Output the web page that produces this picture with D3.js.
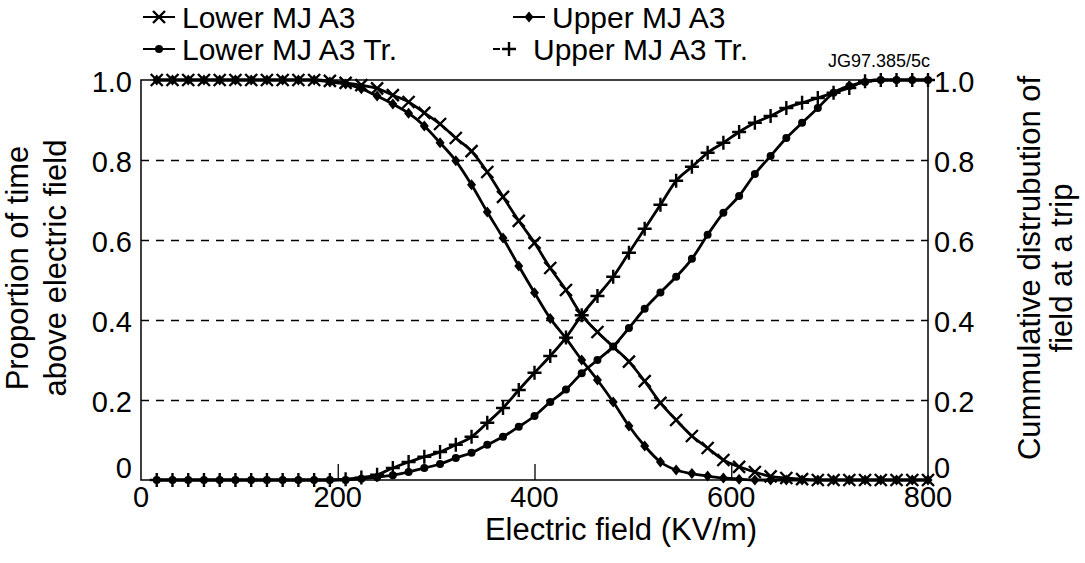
<!DOCTYPE html>
<html>
<head>
<meta charset="utf-8">
<script src="https://cdn.jsdelivr.net/npm/d3@7"></script>
<style>
  body { margin: 0; background: #fff; }
  text { font-family: "Liberation Sans", Arial, Helvetica, sans-serif; fill: #000; }
</style>
</head>
<body>
<div id="chart"></div>
<script>
// field values (KV/m) where each point was read
var field = d3.range(16, 801, 16);

// proportion of time above field (decreasing)
var lowerA3 = [1,1,1,1,1,1,1,1,1,1,1, 0.998,0.993,0.987,0.979,0.962,0.945,0.918,0.89,0.855,
  0.822,0.77,0.708,0.648,0.593,0.53,0.475,0.412,0.37,0.333,0.296,0.247,0.193,0.15,0.11,
  0.08,0.05,0.033,0.02,0.009,0.005,0.002,0,0,0,0,0,0,0,0];
var upperA3 = [1,1,1,1,1,1,1,1,1,1,1, 0.995,0.99,0.978,0.96,0.94,0.917,0.885,0.843,0.798,
  0.738,0.67,0.605,0.535,0.468,0.404,0.354,0.3,0.25,0.195,0.135,0.085,0.045,0.025,0.016,
  0.01,0.005,0.002,0,0,0,0,0,0,0,0,0,0,0,0];

// cumulative distribution of field at a trip (increasing)
var lowerA3Tr = [0,0,0,0,0,0,0,0,0,0,0,0,0, 0.003,0.007,0.012,0.02,0.03,0.04,0.055,
  0.068,0.088,0.108,0.133,0.16,0.195,0.226,0.267,0.3,0.334,0.38,0.428,0.469,0.508,0.553,
  0.613,0.668,0.71,0.765,0.81,0.855,0.893,0.93,0.968,0.985,0.995,1,1,1,1];
var upperA3Tr = [0,0,0,0,0,0,0,0,0,0,0,0, 0.002,0.006,0.013,0.03,0.045,0.058,0.07,0.088,
  0.108,0.143,0.18,0.225,0.268,0.31,0.356,0.412,0.46,0.508,0.568,0.628,0.688,0.748,0.783,
  0.818,0.843,0.87,0.893,0.91,0.93,0.943,0.955,0.968,0.98,0.997,1,1,1,1];

var seriesNames = ["Lower MJ A3", "Upper MJ A3", "Lower MJ A3 Tr.", "Upper MJ A3 Tr."];
var xTicks = [0, 200, 400, 600, 800];
var yTicks = [0, 0.2, 0.4, 0.6, 0.8, 1.0];

var width = 1085,
    height = 563;

var svg = d3.select("#chart")
    .append("svg")
    .attr("width", width)
    .attr("height", height);

var x = d3.scaleLinear().domain([0, 800]).range([141, 928]);
var y = d3.scaleLinear().domain([0, 1]).range([480, 80]);

var series = [
    { name: seriesNames[0], values: lowerA3, marker: "cross" },
    { name: seriesNames[1], values: upperA3, marker: "diamond" },
    { name: seriesNames[2], values: lowerA3Tr, marker: "dot" },
    { name: seriesNames[3], values: upperA3Tr, marker: "plus" }
];

// dashed grid lines
svg.selectAll(".grid")
    .data(yTicks.filter(function(d) { return d > 0 && d < 1; }))
    .enter().append("line")
    .attr("class", "grid")
    .attr("x1", x(0)).attr("x2", x(800))
    .attr("y1", function(d) { return Math.round(y(d)) + 0.5; })
    .attr("y2", function(d) { return Math.round(y(d)) + 0.5; })
    .attr("stroke", "#000")
    .attr("stroke-width", 1.5)
    .attr("stroke-dasharray", "8,7");

// frame
svg.append("rect")
    .attr("x", x(0)).attr("y", y(1))
    .attr("width", x(800) - x(0)).attr("height", y(0) - y(1))
    .attr("fill", "none")
    .attr("stroke", "#000")
    .attr("stroke-width", 1.5);

// x axis with small inner ticks
var xAxis = svg.append("g")
    .attr("transform", "translate(0," + y(0) + ")")
    .call(d3.axisTop(x).tickValues([200, 400, 600]).tickSize(16).tickFormat(""));
xAxis.select(".domain").remove();
xAxis.selectAll("line").attr("stroke-width", 1.3);

svg.selectAll(".xlab")
    .data(xTicks)
    .enter().append("text")
    .attr("class", "xlab")
    .attr("x", function(d) { return x(d); })
    .attr("y", 507)
    .attr("text-anchor", "middle")
    .style("font-size", "29px")
    .text(function(d) { return d; });

function yLabel(d) { return d === 0 ? "0" : d3.format(".1f")(d); }
function yPos(d) { return d === 0 ? y(d) - 12 : y(d) + 2; }

svg.selectAll(".ylabL")
    .data(yTicks)
    .enter().append("text")
    .attr("class", "ylabL")
    .attr("x", 132)
    .attr("y", yPos)
    .attr("dy", "0.35em")
    .attr("text-anchor", "end")
    .style("font-size", "29px")
    .text(yLabel);

svg.selectAll(".ylabR")
    .data(yTicks)
    .enter().append("text")
    .attr("class", "ylabR")
    .attr("x", 934)
    .attr("y", yPos)
    .attr("dy", "0.35em")
    .attr("text-anchor", "start")
    .style("font-size", "29px")
    .text(yLabel);

// curves
var line = d3.line()
    .x(function(d, i) { return x(field[i]); })
    .y(function(d) { return y(d); })
    .curve(d3.curveMonotoneX);

svg.selectAll(".curve")
    .data(series)
    .enter().append("path")
    .attr("class", "curve")
    .attr("d", function(s) { return line(s.values); })
    .attr("fill", "none")
    .attr("stroke", "#000")
    .attr("stroke-width", 2.8);

// marker drawing
function drawMarker(g, type) {
    if (type == "cross") {
        g.append("path").attr("d", "M-6,-6L6,6M-6,6L6,-6")
            .attr("stroke", "#000").attr("stroke-width", 2.4);
    } else if (type == "plus") {
        g.append("path").attr("d", "M-7,0L7,0M0,-7L0,7")
            .attr("stroke", "#000").attr("stroke-width", 2.4);
    } else if (type == "diamond") {
        g.append("path").attr("d", "M0,-5.5L4.5,0L0,5.5L-4.5,0Z").attr("fill", "#000");
    } else {
        g.append("circle").attr("r", 4).attr("fill", "#000");
    }
}

series.forEach(function(s) {
    svg.append("g").selectAll("g")
        .data(s.values)
        .enter().append("g")
        .attr("transform", function(d, i) { return "translate(" + x(field[i]) + "," + y(d) + ")"; })
        .each(function() { drawMarker(d3.select(this), s.marker); });
});

// legend
var legendPos = [
    { x: 143, y: 17, textX: 182, dash: null },
    { x: 513, y: 17, textX: 552, dash: null },
    { x: 143, y: 49, textX: 182, dash: null },
    { x: 493, y: 49, textX: 533, dash: "7,9" }
];
series.forEach(function(s, i) {
    var p = legendPos[i];
    var g = svg.append("g");
    g.append("line")
        .attr("x1", p.x).attr("x2", p.x + 32)
        .attr("y1", p.y).attr("y2", p.y)
        .attr("stroke", "#000").attr("stroke-width", 2)
        .attr("stroke-dasharray", p.dash);
    var m = g.append("g").attr("transform", "translate(" + (p.x + 16) + "," + p.y + ")");
    drawMarker(m, s.marker);
    g.append("text")
        .attr("x", p.textX).attr("y", p.y)
        .attr("dy", "0.35em")
        .style("font-size", "30px")
        .text(s.name);
});

// axis titles
svg.append("text")
    .attr("x", 621).attr("y", 540)
    .attr("text-anchor", "middle")
    .style("font-size", "31px")
    .text("Electric field (KV/m)");

var leftTitle = svg.append("text")
    .attr("transform", "translate(0,268) rotate(-90)")
    .attr("text-anchor", "middle")
    .style("font-size", "31px");
leftTitle.append("tspan").attr("x", 0).attr("y", 28).text("Proportion of time");
leftTitle.append("tspan").attr("x", 0).attr("y", 66).text("above electric field");

var rightTitle = svg.append("text")
    .attr("transform", "translate(0,268) rotate(-90)")
    .attr("text-anchor", "middle")
    .style("font-size", "31px");
rightTitle.append("tspan").attr("x", 0).attr("y", 1040).text("Cummulative distrubution of");
rightTitle.append("tspan").attr("x", 0).attr("y", 1072).text("field at a trip");

svg.append("text")
    .attr("x", 930).attr("y", 67)
    .attr("text-anchor", "end")
    .style("font-size", "18px")
    .text("JG97.385/5c");
</script>
</body>
</html>
